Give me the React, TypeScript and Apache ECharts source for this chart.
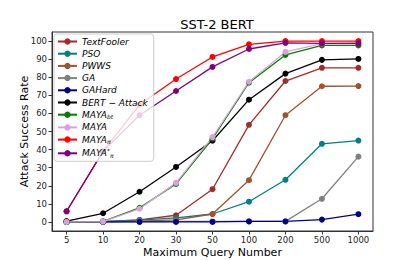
import React, { useEffect, useRef } from "react";
import * as echarts from "echarts";

const queryLabels = ["5", "10", "20", "30", "50", "100", "200", "500", "1000"];
const yTicks = [0, 10, 20, 30, 40, 50, 60, 70, 80, 90, 100];

const textFooler = [0, 0.2, 1.1, 3.7, 18.1, 53.7, 77.9, 85.2, 85.2];
const pso = [0, 0.3, 1.0, 2.2, 4.4, 11.2, 23.3, 43.2, 45.0];
const pwws = [0, 0, 0.5, 1.1, 4.4, 23.1, 59.0, 75.0, 75.1];
const ga = [0, 0, 0.2, 0.3, 0.3, 0.3, 0.3, 12.8, 36.1];
const gaHard = [0, 0, 0, 0, 0, 0.3, 0.3, 1.3, 4.3];
const bertAttack = [0.5, 4.8, 16.7, 30.4, 44.9, 67.6, 82.0, 89.6, 90.1];
const mayaBt = [0, 0.3, 7.8, 21.0, 46.0, 77.0, 92.3, 97.6, 97.6];
const maya = [0, 0.2, 7.3, 21.6, 46.9, 77.5, 94.0, 98.6, 99.0];
const mayaPi = [5.9, 39.0, 64.8, 79.0, 91.2, 98.2, 100, 100, 100];
const mayaPiStar = [5.9, 39.0, 59.0, 72.4, 85.7, 95.6, 99.0, 98.7, 98.7];

const seriesDefs = [
  { name: "TextFooler", data: textFooler, color: "#a52a2a", label: "{i|TextFooler}" },
  { name: "PSO", data: pso, color: "#008080", label: "{i|PSO}" },
  { name: "PWWS", data: pwws, color: "#a0522d", label: "{i|PWWS}" },
  { name: "GA", data: ga, color: "#808080", label: "{i|GA}" },
  { name: "GAHard", data: gaHard, color: "#00008b", label: "{i|GAHard}" },
  { name: "BERT-Attack", data: bertAttack, color: "#000000", label: "{i|BERT − Attack}" },
  { name: "MAYA_bt", data: mayaBt, color: "#008000", label: "{i|MAYA}{s|bt}" },
  { name: "MAYA", data: maya, color: "#dda0dd", label: "{i|MAYA}" },
  { name: "MAYA_pi", data: mayaPi, color: "#ff0000", label: "{i|MAYA}{s|π}" },
  { name: "MAYA_pi*", data: mayaPiStar, color: "#800080", label: "{i|MAYA}{sp|*}{s|π}" },
];

const FONT = "DejaVu Sans";

export default function App() {
  const ref = useRef<HTMLDivElement>(null);
  useEffect(() => {
    if (!ref.current) return;
    const chart = echarts.init(ref.current, null, { renderer: "svg" });
    const labelMap: Record<string, string> = {};
    seriesDefs.forEach((s) => (labelMap[s.name] = s.label));
    chart.setOption({
      animation: false,
      backgroundColor: "#ffffff",
      title: {
        text: "SST-2 BERT",
        left: 212,
        textAlign: "center",
        top: 13,
        textStyle: { fontFamily: FONT, fontSize: 13, fontWeight: "normal", color: "#000" },
      },
      grid: {
        left: 52,
        right: 42,
        top: 32,
        bottom: 29,
        outerBoundsMode: "none",
        containLabel: false,
        show: true,
        borderColor: "#333",
        borderWidth: 1,
        backgroundColor: "transparent",
      },
      legend: {
        orient: "vertical",
        left: 54,
        top: 34,
        itemWidth: 19,
        itemHeight: 8,
        itemGap: 3.2,
        padding: [3, 6, 3, 3],
        borderColor: "#cccccc",
        borderWidth: 1,
        borderRadius: 3,
        backgroundColor: "rgba(255,255,255,0.8)",
        selectedMode: false,
        data: seriesDefs.map((s) => s.name),
        formatter: (name: string) => labelMap[name],
        textStyle: {
          fontFamily: FONT,
          fontSize: 9,
          color: "#000",
          rich: {
            i: { fontFamily: FONT, fontStyle: "italic", fontSize: 9, color: "#000" },
            s: { fontFamily: FONT, fontStyle: "italic", fontSize: 6, color: "#000", padding: [4, 0, 0, 0] },
            sp: { fontFamily: FONT, fontStyle: "italic", fontSize: 6, color: "#000", padding: [0, 0, 5, 0] },
          },
        },
      },
      xAxis: {
        type: "value",
        min: -0.4,
        max: 8.4,
        name: "Maximum Query Number",
        nameLocation: "middle",
        nameGap: 21,
        nameMoveOverlap: false,
        nameTextStyle: { fontFamily: FONT, fontSize: 11, color: "#000", verticalAlign: "middle", lineHeight: 12 },
        axisLine: { show: true, onZero: false, lineStyle: { color: "#333", width: 1 } },
        axisTick: { show: true, length: 3.5, lineStyle: { color: "#333" }, customValues: queryLabels.map((_, i) => i) },
        axisLabel: {
          fontFamily: FONT,
          fontSize: 8.5,
          color: "#222",
          margin: 4,
          customValues: queryLabels.map((_, i) => i),
          formatter: (v: number) => queryLabels[Math.round(v)] ?? "",
        },
        splitLine: { show: false },
      },
      yAxis: {
        type: "value",
        min: -5,
        max: 105,
        name: "Attack Success Rate",
        nameLocation: "middle",
        nameGap: 28,
        nameMoveOverlap: false,
        nameTextStyle: { fontFamily: FONT, fontSize: 11, color: "#000", verticalAlign: "middle", lineHeight: 12 },
        axisLine: { show: true, onZero: false, lineStyle: { color: "#333", width: 1 } },
        axisTick: { show: true, length: 3.5, lineStyle: { color: "#333" }, customValues: yTicks },
        axisLabel: {
          fontFamily: FONT,
          fontSize: 8.5,
          color: "#222",
          margin: 5,
          customValues: yTicks,
        },
        splitLine: { show: false },
      },
      series: seriesDefs.map((s) => ({
        name: s.name,
        type: "line",
        data: s.data.map((v, i) => [i, v]),
        symbol: "circle",
        symbolSize: 6,
        showSymbol: true,
        itemStyle: { color: s.color },
        lineStyle: { color: s.color, width: 1.3 },
        emphasis: { disabled: true },
      })),
    });
    return () => chart.dispose();
  }, []);
  return (
    <div
      ref={ref}
      style={{ width: 415, height: 260, position: "fixed", left: 0, top: 0 }}
    />
  );
}
